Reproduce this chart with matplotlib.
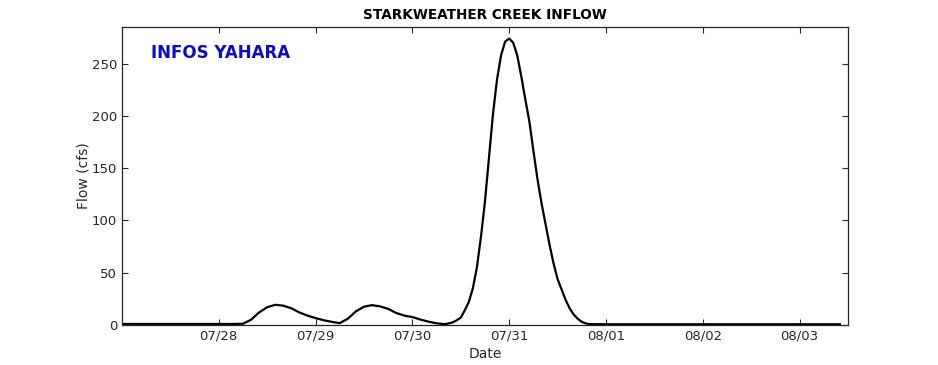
import numpy as np
import pandas as pd
import matplotlib
matplotlib.use("Agg")
import matplotlib.pyplot as plt
import matplotlib.dates as mdates

# --- data (hours after 07/27 00:00, cfs) ---
start = pd.Timestamp("2015-07-27 00:00")

hours = [0, 6, 12, 18, 24, 28, 30, 32, 34, 36, 38, 40, 42, 44, 46, 48, 50, 52, 54,
         56, 58, 60, 62, 64, 66, 68, 70, 72, 74, 76, 78, 80,
         81, 82, 83, 84, 85, 86, 87, 88, 89, 90, 91, 92, 93, 94, 95, 96,
         97, 98, 99, 100, 101, 102, 103, 104, 105, 106, 107, 108, 109, 110,
         111, 112, 113, 114, 115, 116, 120, 132, 144, 156, 168, 178]
flow = [1.0, 1.0, 1.0, 1.0, 1.0, 1.0, 1.2, 5, 12, 17, 19.3, 18.5, 16, 12, 9, 6.6, 4.6, 3, 1.8,
        6, 13, 17.5, 19, 17.8, 15.4, 11.5, 9, 7.6, 5.2, 3.2, 1.6, 0.8,
        1.5, 2.5, 4.5, 7, 14, 22, 35, 55, 84, 118, 160, 202, 235, 258, 271, 274,
        270, 258, 238, 216, 195, 167, 140, 117, 97, 77, 59, 44, 34, 24,
        16, 10, 6, 3, 1.5, 0.8, 0.7, 0.7, 0.7, 0.7, 0.7, 0.7]

tick_days = ["2015-07-28", "2015-07-29", "2015-07-30", "2015-07-31",
             "2015-08-01", "2015-08-02", "2015-08-03"]

times = start + pd.to_timedelta(hours, unit="h")

axis_col = "#262626"

fig = plt.figure(figsize=(9.38, 3.65), dpi=100)
ax = fig.add_axes([0.130, 0.1096, 0.774, 0.8164])

ax.plot(times, flow, color="black", linewidth=1.6)

ax.set_xlim(start, pd.Timestamp("2015-08-03 12:00"))
ax.set_ylim(0, 285)
ax.set_xticks(pd.to_datetime(tick_days))
ax.xaxis.set_major_formatter(mdates.DateFormatter("%m/%d"))
ax.set_yticks([0, 50, 100, 150, 200, 250])

ax.tick_params(direction="in", top=True, right=True, length=4, width=0.8,
               labelsize=9.5, colors=axis_col)
for s in ax.spines.values():
    s.set_color(axis_col)
    s.set_linewidth(0.9)

ax.set_title("STARKWEATHER CREEK INFLOW", fontsize=9.8, fontweight="bold", pad=6)
ax.set_xlabel("Date", fontsize=10, color=axis_col, labelpad=3)
ax.set_ylabel("Flow (cfs)", fontsize=10, color=axis_col, labelpad=1)

ax.text(0.04, 0.913, "INFOS YAHARA", transform=ax.transAxes, color="#0a0ad6",
        fontsize=12, fontweight="bold", va="center", ha="left")

fig.savefig("out.png", dpi=100)
